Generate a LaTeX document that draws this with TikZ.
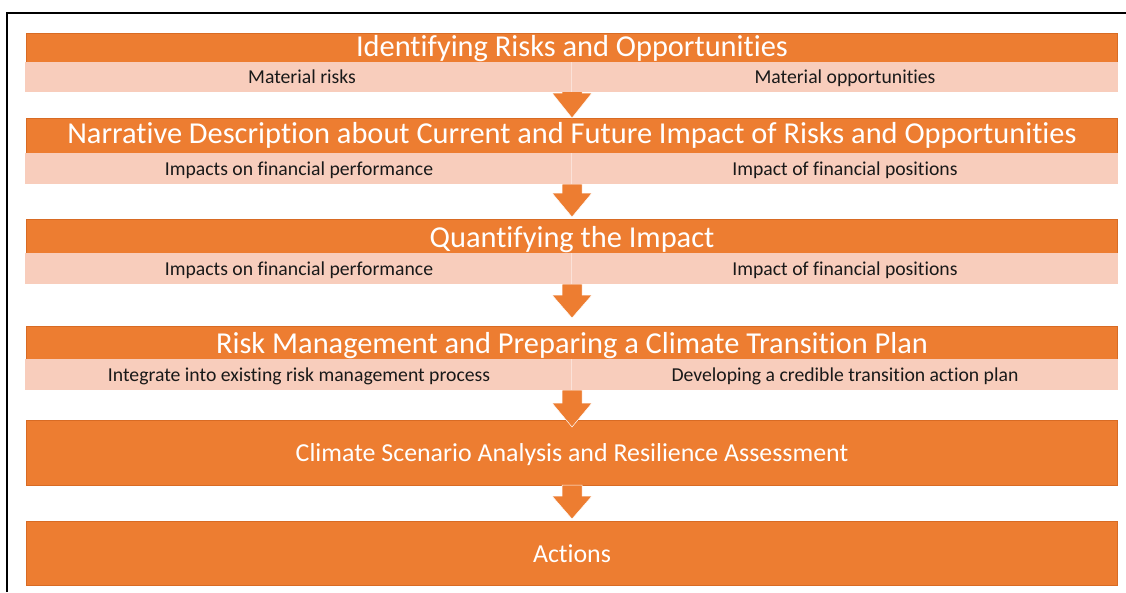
\documentclass[tikz,border=0pt]{standalone}
\usepackage{fontspec}
\setmainfont{Carlito}[RawFeature=-liga]
\usetikzlibrary{fit}
\definecolor{orng}{HTML}{ED7D31}
\definecolor{orngdark}{HTML}{D86B24}
\definecolor{pnk}{HTML}{F8CDBC}
\definecolor{pnklight}{HTML}{FBE2D8}
\tikzset{
  obox/.style={fill=orng, draw=orngdark, line width=0.6pt, inner sep=0pt, outer sep=0pt},
  pbox/.style={fill=pnk, draw=none, inner sep=0pt, outer sep=0pt},
  ttl/.style={text=white, font=\fontsize{30.4}{30}\selectfont, anchor=base, inner sep=0pt},
  subtxt/.style={text=black!90, font=\fontsize{19.7}{20}\selectfont, anchor=base, inner sep=0pt},
  bigtxt/.style={text=white, font=\fontsize{25.9}{26}\selectfont, anchor=base, inner sep=0pt},
  blockarrow/.style={fill=orng, draw=white, line width=0.5pt, line join=miter},
  divider/.style={draw=pnklight, line width=1pt},
}
\newcommand\flowarrow[3]{%
  \path[blockarrow] (562,#1) -- (582,#1) -- (582,#2) -- (592,#2) -- (572,#3)
    -- (552,#2) -- (562,#2) -- cycle;}
\begin{document}
\begin{tikzpicture}[x=1pt,y=-1pt]
\useasboundingbox (0,0) rectangle (1126,592);
\draw[line width=1.5pt] (7,592) -- (7,13) -- (1126,13);

% orange boxes
\node[obox, fit={(26,33)(1117,88)}] (o1) {};
\node[obox, fit={(26,118)(1117,180)}] (o2) {};
\node[obox, fit={(26,219)(1117,280)}] (o3) {};
\node[obox, fit={(26,326)(1117,386)}] (o4) {};
\node[obox, fit={(26,420)(1117,485)}] (o5) {};
\node[obox, fit={(26,521)(1117,585)}] (o6) {};

% block arrows
\flowarrow{88}{93}{118}
\flowarrow{184}{193}{217}
\flowarrow{284}{295}{318}
\flowarrow{390}{403}{427}
\flowarrow{485}{496}{519}

% pink bands
\node[pbox, fit={(25,62)(1118,92)}] (p1) {};
\node[pbox, fit={(25,153)(1118,184)}] (p2) {};
\node[pbox, fit={(25,253)(1118,284)}] (p3) {};
\node[pbox, fit={(25,359)(1118,390)}] (p4) {};
\draw[divider] (p1.north) -- (p1.south);
\draw[divider] (p2.north) -- (p2.south);
\draw[divider] (p3.north) -- (p3.south);
\draw[divider] (p4.north) -- (p4.south);

% texts
\node[ttl] (t1) at (572,56.5) {Identifying Risks and Opportunities};
\node[subtxt] (s1l) at (302,83) {Material risks};
\node[subtxt] (s1r) at (845,83) {Material opportunities};

\node[ttl] (t2) at (572,143.5) {Narrative Description about Current and Future Impact of Risks and Opportunities};
\node[subtxt] (s2l) at (299,175) {Impacts on financial performance};
\node[subtxt] (s2r) at (845,175) {Impact of financial positions};

\node[ttl] (t3) at (572,247.5) {Quantifying the Impact};
\node[subtxt] (s3l) at (299,275) {Impacts on financial performance};
\node[subtxt] (s3r) at (845,275) {Impact of financial positions};

\node[ttl] (t4) at (572,353.5) {Risk Management and Preparing a Climate Transition Plan};
\node[subtxt] (s4l) at (299,381) {Integrate into existing risk management process};
\node[subtxt] (s4r) at (845,381) {Developing a credible transition action plan};

\node[bigtxt] (t5) at (572,461) {Climate Scenario Analysis and Resilience Assessment};
\node[bigtxt] (t6) at (572,562) {Actions};
\end{tikzpicture}
\end{document}
